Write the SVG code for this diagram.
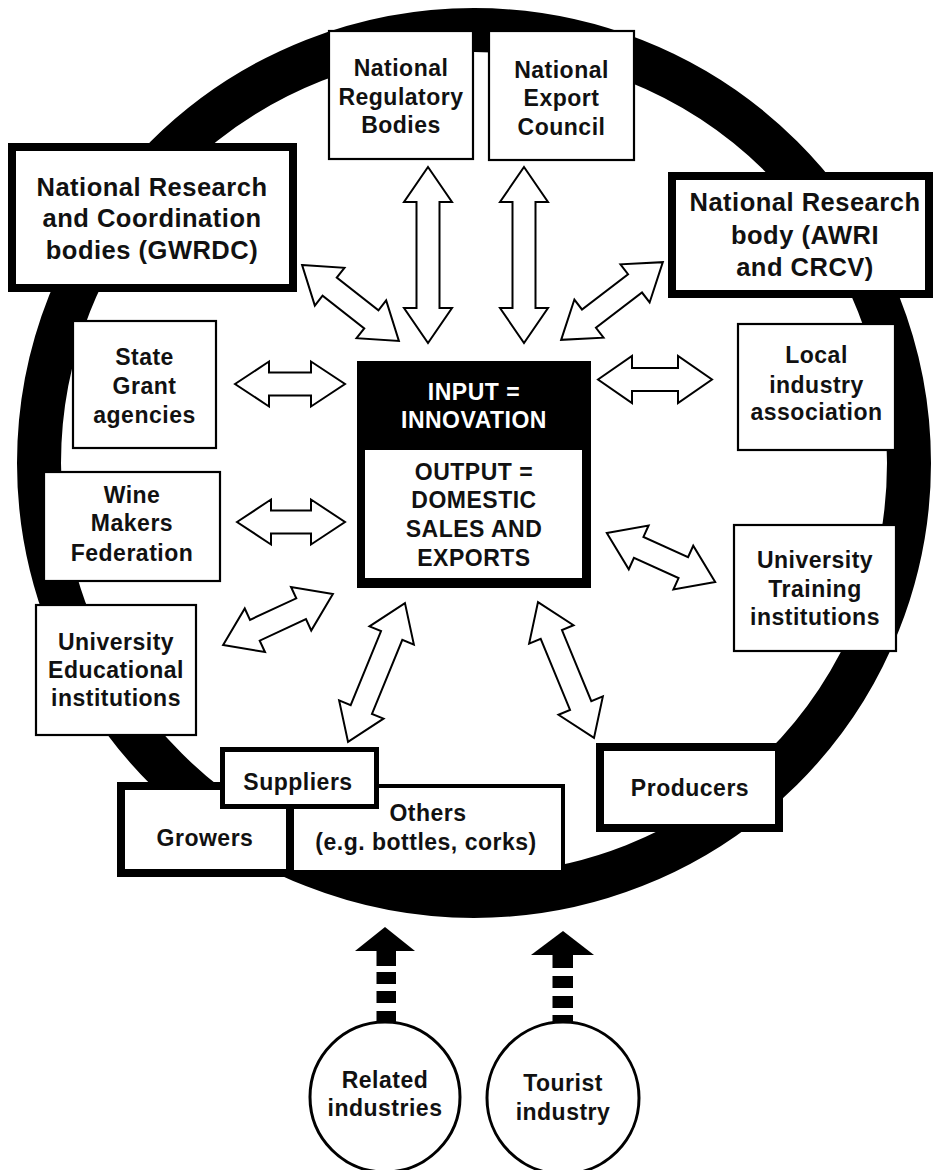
<svg xmlns="http://www.w3.org/2000/svg" width="933" height="1170" viewBox="0 0 933 1170">
<style>
.bg{fill:#fff}
.ring{fill:none;stroke:#000;stroke-width:44}
.thin{fill:#fff;stroke:#000;stroke-width:2.2}
.thick{fill:#fff;stroke:#000;stroke-width:8}
.arr{fill:#fff;stroke:#000;stroke-width:2;stroke-linejoin:miter}
.blk{fill:#000}
.circ{fill:#fff;stroke:#000;stroke-width:3}
text{font-family:"Liberation Sans",Arial,sans-serif;font-weight:bold;font-size:23px;letter-spacing:0.5px;text-anchor:middle;fill:#111}
.big{font-size:25.5px}
.wt{fill:#fff}
</style>
<rect class="bg" x="0" y="0" width="933" height="1170"/>
<ellipse class="ring" cx="474" cy="463" rx="435" ry="433"/>

<g id="connectors">
  <path class="arr" transform="translate(350.5,303) rotate(38.1)" d="M-61.5,0 L-26.5,-24 L-26.5,-11.5 L26.5,-11.5 L26.5,-24 L61.5,0 L26.5,24 L26.5,11.5 L-26.5,11.5 L-26.5,24 Z"/>
  <path class="arr" transform="translate(428,255) rotate(90)" d="M-88,0 L-53,-24 L-53,-11.5 L53,-11.5 L53,-24 L88,0 L53,24 L53,11.5 L-53,11.5 L-53,24 Z"/>
  <path class="arr" transform="translate(524,255) rotate(90)" d="M-88,0 L-53,-24 L-53,-11.5 L53,-11.5 L53,-24 L88,0 L53,24 L53,11.5 L-53,11.5 L-53,24 Z"/>
  <path class="arr" transform="translate(612,301) rotate(-37.4)" d="M-64,0 L-29,-24 L-29,-11.5 L29,-11.5 L29,-24 L64,0 L29,24 L29,11.5 L-29,11.5 L-29,24 Z"/>
  <path class="arr" transform="translate(290,384)" d="M-55,0 L-21,-22.5 L-21,-11.5 L21,-11.5 L21,-22.5 L55,0 L21,22.5 L21,11.5 L-21,11.5 L-21,22.5 Z"/>
  <path class="arr" transform="translate(291,522)" d="M-54,0 L-20,-22.5 L-20,-11.5 L20,-11.5 L20,-22.5 L54,0 L20,22.5 L20,11.5 L-20,11.5 L-20,22.5 Z"/>
  <path class="arr" transform="translate(278,619.5) rotate(-24.9)" d="M-60.5,0 L-25.5,-24 L-25.5,-11.5 L25.5,-11.5 L25.5,-24 L60.5,0 L25.5,24 L25.5,11.5 L-25.5,11.5 L-25.5,24 Z"/>
  <path class="arr" transform="translate(376.5,672.5) rotate(112.3)" d="M-75,0 L-40,-24 L-40,-11.5 L40,-11.5 L40,-24 L75,0 L40,24 L40,11.5 L-40,11.5 L-40,24 Z"/>
  <path class="arr" transform="translate(655,379.5)" d="M-57,0 L-23,-23.5 L-23,-11.5 L23,-11.5 L23,-23.5 L57,0 L23,23.5 L23,11.5 L-23,11.5 L-23,23.5 Z"/>
  <path class="arr" transform="translate(661,557.5) rotate(24.4)" d="M-59.5,0 L-24.5,-24 L-24.5,-11.5 L24.5,-11.5 L24.5,-24 L59.5,0 L24.5,24 L24.5,11.5 L-24.5,11.5 L-24.5,24 Z"/>
  <path class="arr" transform="translate(566,670) rotate(67.6)" d="M-73.5,0 L-38.5,-24 L-38.5,-11.5 L38.5,-11.5 L38.5,-24 L73.5,0 L38.5,24 L38.5,11.5 L-38.5,11.5 L-38.5,24 Z"/>
  <g id="arrow-related">
    <polygon class="blk" points="385,927 415,951 355,951"/>
    <rect class="blk" x="376.5" y="950" width="19.5" height="16"/>
    <rect class="blk" x="376.5" y="972" width="19.5" height="12"/>
    <rect class="blk" x="376.5" y="991" width="19.5" height="12"/>
    <rect class="blk" x="376.5" y="1011" width="19.5" height="13"/>
  </g>
  <g id="arrow-tourist">
    <polygon class="blk" points="563,931 594,955 531,955"/>
    <rect class="blk" x="552.5" y="954" width="20.5" height="14"/>
    <rect class="blk" x="552.5" y="976" width="20.5" height="12"/>
    <rect class="blk" x="552.5" y="996" width="20.5" height="12"/>
    <rect class="blk" x="552.5" y="1015" width="20.5" height="9"/>
  </g>
</g>

<g id="national-regulatory">
  <rect class="thin" x="329" y="31" width="144" height="128"/>
  <text x="401" y="76">National</text>
  <text x="401" y="105">Regulatory</text>
  <text x="401" y="133">Bodies</text>
</g>
<g id="national-export">
  <rect class="thin" x="489" y="31" width="145" height="129"/>
  <text x="561.5" y="78">National</text>
  <text x="561.5" y="106">Export</text>
  <text x="561.5" y="135">Council</text>
</g>
<g id="gwrdc">
  <rect class="thick" x="12" y="147" width="281" height="141"/>
  <text class="big" x="152" y="196">National Research</text>
  <text class="big" x="152" y="227">and Coordination</text>
  <text class="big" x="152" y="259">bodies (GWRDC)</text>
</g>
<g id="awri">
  <rect class="thick" x="672" y="176" width="257" height="118"/>
  <text class="big" x="805" y="211">National Research</text>
  <text class="big" x="805" y="244">body (AWRI</text>
  <text class="big" x="805" y="276">and CRCV)</text>
</g>
<g id="state-grant">
  <rect class="thin" x="73" y="321" width="143" height="127"/>
  <text x="144.5" y="365">State</text>
  <text x="144.5" y="394">Grant</text>
  <text x="144.5" y="423">agencies</text>
</g>
<g id="wine-makers">
  <rect class="thin" x="44" y="472" width="176" height="109"/>
  <text x="132" y="503">Wine</text>
  <text x="132" y="531">Makers</text>
  <text x="132" y="561">Federation</text>
</g>
<g id="univ-educational">
  <rect class="thin" x="36" y="605" width="160" height="130"/>
  <text x="116" y="650">University</text>
  <text x="116" y="678">Educational</text>
  <text x="116" y="706">institutions</text>
</g>
<g id="local-industry">
  <rect class="thin" x="738" y="324" width="157" height="126"/>
  <text x="816.5" y="363">Local</text>
  <text x="816.5" y="393">industry</text>
  <text x="816.5" y="420">association</text>
</g>
<g id="univ-training">
  <rect class="thin" x="734" y="525" width="162" height="126"/>
  <text x="815" y="568">University</text>
  <text x="815" y="597">Training</text>
  <text x="815" y="625">institutions</text>
</g>
<g id="center">
  <rect class="blk" x="357" y="361" width="234" height="227"/>
  <rect fill="#fff" x="365" y="450" width="217" height="128"/>
  <text class="wt" x="474" y="400">INPUT =</text>
  <text class="wt" x="474" y="428">INNOVATION</text>
  <text x="474" y="480">OUTPUT =</text>
  <text x="474" y="508">DOMESTIC</text>
  <text x="474" y="537">SALES AND</text>
  <text x="474" y="566">EXPORTS</text>
</g>
<g id="growers">
  <rect class="thick" x="121" y="786" width="169" height="87"/>
  <text x="205" y="846">Growers</text>
</g>
<g id="others">
  <rect class="thin" style="stroke-width:4" x="292" y="786" width="271" height="86"/>
  <text x="428" y="821">Others</text>
  <text x="426" y="850">(e.g. bottles, corks)</text>
</g>
<g id="suppliers">
  <rect class="thin" style="stroke-width:5" x="222.5" y="749.5" width="154" height="57"/>
  <text x="298" y="790">Suppliers</text>
</g>
<g id="producers">
  <rect class="thick" x="600" y="747" width="179" height="81"/>
  <text x="690" y="796">Producers</text>
</g>
<g id="related">
  <circle class="circ" cx="385" cy="1097" r="75"/>
  <text x="385" y="1088">Related</text>
  <text x="385" y="1116">industries</text>
</g>
<g id="tourist">
  <circle class="circ" cx="563" cy="1098" r="76"/>
  <text x="563" y="1091">Tourist</text>
  <text x="563" y="1120">industry</text>
</g>
</svg>
